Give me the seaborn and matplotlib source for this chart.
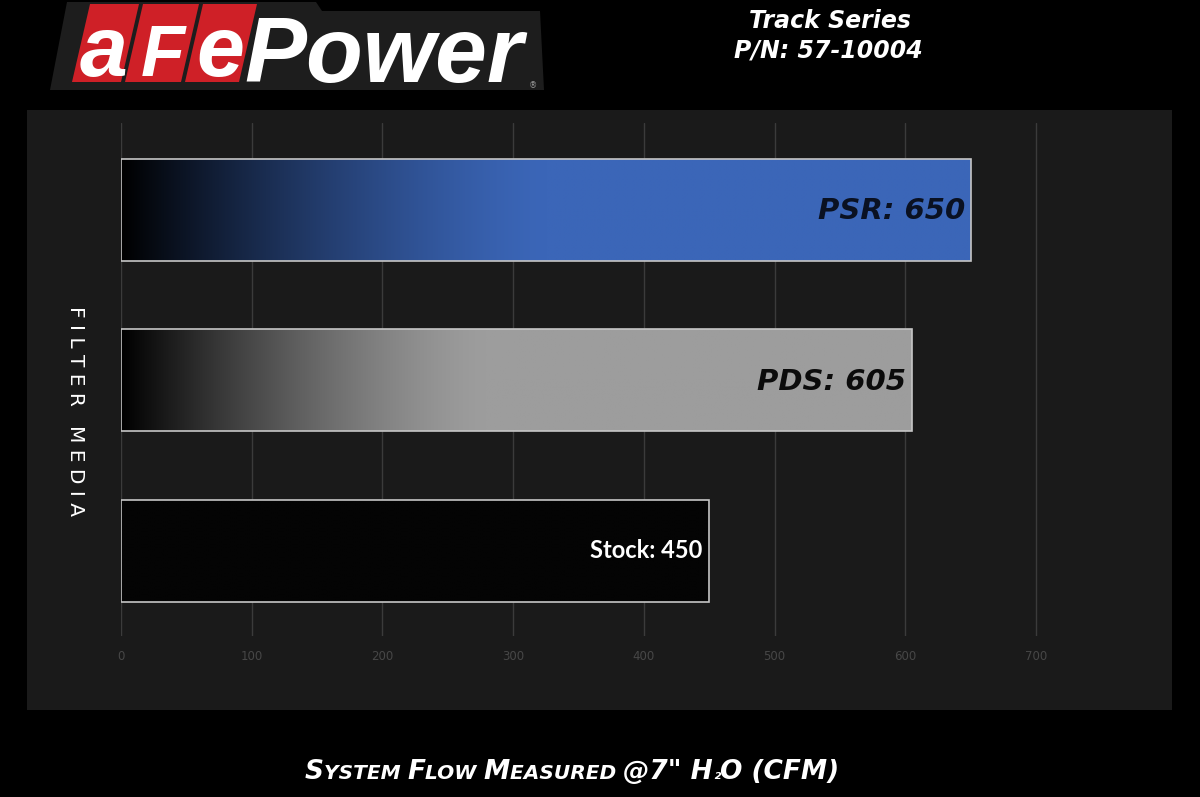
import numpy as np
import pandas as pd
import matplotlib
matplotlib.use('Agg')
import matplotlib.pyplot as plt
import seaborn as sns
from matplotlib.patches import Rectangle, Polygon
from matplotlib.colors import to_rgb

# ---- data ----
categories = ['PSR', 'PDS', 'Stock']
flow_cfm = [650, 605, 450]
label_texts = ['PSR: 650', 'PDS: 605', 'Stock: 450']
x_ticks = [0, 100, 200, 300, 400, 500, 600, 700]
title_lines = ['Track Series', 'P/N: 57-10004']
y_title = 'F I L T E R   M E D I A'

# ---- style ----
bar_colors = ['#3b66b8', '#9d9d9d', '#040404']
ramp_fracs = [0.5, 0.46, 0.0]
label_colors = ['#0a1122', '#0b0b0b', '#ffffff']

W, H = 1200, 797
sns.set_theme(style='dark')
plt.rcParams['font.family'] = ['DejaVu Sans']

fig = plt.figure(figsize=(W / 100, H / 100), dpi=100, facecolor='black')


def px(x, y):
    return (x / W, 1 - y / H)


# panel background
fig.patches.append(Rectangle(px(27, 710), (1172 - 27) / W, 600 / H,
                             transform=fig.transFigure, facecolor='#1a1a1a',
                             edgecolor='none', zorder=-5))

ax_left, ax_top, ax_bottom = 121, 123, 636
ax_right = 121 + 8 * 130.7
ax = fig.add_axes([ax_left / W, 1 - ax_bottom / H, (ax_right - ax_left) / W,
                   (ax_bottom - ax_top) / H])
ax.set_facecolor('none')
ax.set_zorder(1)

df = pd.DataFrame({'filter': categories, 'cfm': flow_cfm})
sns.barplot(data=df, x='cfm', y='filter', orient='h', width=0.6, ax=ax,
            color='black', zorder=3)

# gradient fills clipped to bars
for patch, col, frac in zip(ax.patches, bar_colors, ramp_fracs):
    x0, y0 = patch.get_x(), patch.get_y()
    w, h = patch.get_width(), patch.get_height()
    n = 400
    t = np.linspace(0, 1, n)
    if frac > 0:
        xx = np.clip(t / frac, 0, 1)
        r = 1 - (1 - xx) ** 1.4
    else:
        r = np.ones(n)
    c = np.array(to_rgb(col))
    img = (r[:, None] * c[None, :])[None, :, :]
    im = ax.imshow(img, extent=[x0, x0 + w, y0 + h, y0], aspect='auto',
                   zorder=3.5, interpolation='bilinear')
    im.set_clip_path(patch)
    patch.set_facecolor('none')
    patch.set_edgecolor('#c6c6c6')
    patch.set_linewidth(1.2)
    patch.set_zorder(4)

ax.set_xlim(0, 800)
ax.set_ylim(2.5, -0.51)
ax.set_xticks(x_ticks)
ax.set_xticklabels([str(v) for v in x_ticks])
ax.tick_params(axis='x', colors='#474747', labelsize=8.5, length=0, pad=10)
ax.set_yticks([])
ax.xaxis.grid(True, color='#3b3b3b', linewidth=1)
ax.yaxis.grid(False)
ax.set_axisbelow(True)
for s in ax.spines.values():
    s.set_visible(False)
ax.set_xlabel('')
ax.set_ylabel('')

# value labels
for i, (v, txt, lc) in enumerate(zip(flow_cfm, label_texts, label_colors)):
    if i < 2:
        ax.annotate(txt, xy=(v, i), xytext=(-4, -1), textcoords='offset points',
                    ha='right', va='center', color=lc, fontsize=21,
                    fontweight='bold', fontstyle='italic', zorder=6)
    else:
        ax.annotate(txt, xy=(v, i), xytext=(-5, 0), textcoords='offset points',
                    ha='right', va='center', color=lc, fontsize=17,
                    fontweight='bold', family='Lato', zorder=6)

# y title
fig.text(*px(75, 411), y_title, rotation=-90, ha='center', va='center',
         color='white', fontsize=14.5)

# top-right title
fig.text(*px(830, 21), title_lines[0], ha='center', va='center', color='white',
         fontsize=17, fontweight='bold', fontstyle='italic')
fig.text(*px(828, 50), title_lines[1], ha='center', va='center', color='white',
         fontsize=17, fontweight='bold', fontstyle='italic')

# x title in pseudo small caps
pieces = [('S', 19), ('YSTEM ', 14.5), ('F', 19), ('LOW ', 14.5), ('M', 19),
          ('EASURED ', 14.5), ('@7" H', 19), ('\u2082', 12), ('O (CFM)', 19)]
renderer = fig.canvas.get_renderer()
arts = []
for s, fs in pieces:
    t = fig.text(0, 1 - 779 / H, s, ha='left', va='baseline', color='white',
                 fontsize=fs, fontweight='bold', fontstyle='italic')
    arts.append(t)
widths = [a.get_window_extent(renderer).width for a in arts]
total = sum(widths)
xcur = 572 - total / 2
for a, wdt in zip(arts, widths):
    a.set_x(xcur / W)
    xcur += wdt

# logo
fig.patches.append(Polygon([px(50, 90), px(67, 2), px(316, 2), px(322, 11),
                            px(540, 11), px(544, 90)], closed=True,
                           transform=fig.transFigure, facecolor='#1d1d1d',
                           edgecolor='none', zorder=1))
red = '#cf2027'
box_tops = [(90, 139), (143, 199), (203, 257)]
slant = 18
for (a, b) in box_tops:
    fig.patches.append(Polygon([px(a - slant, 82), px(a, 4), px(b, 4),
                                px(b - slant, 82)], closed=True,
                               transform=fig.transFigure, facecolor=red,
                               edgecolor='none', zorder=2))
logo_letters = [('a', 104, 62), ('F', 163, 52), ('e', 220, 62)]
for ch, cx, fs in logo_letters:
    fig.text(*px(cx, 76), ch, ha='center', va='baseline', color='white',
             fontsize=fs, fontweight='bold', fontstyle='italic',
             family='Liberation Sans', zorder=3)
fig.text(*px(244, 82), 'Power', ha='left', va='baseline', color='white',
         fontsize=67, fontweight='bold', fontstyle='italic',
         family='Liberation Sans', zorder=3)
fig.text(*px(533, 86), '\u00ae', ha='center', va='center', color='#9a9a9a',
         fontsize=6, zorder=3)

fig.savefig('out.png', dpi=100, facecolor='black')
